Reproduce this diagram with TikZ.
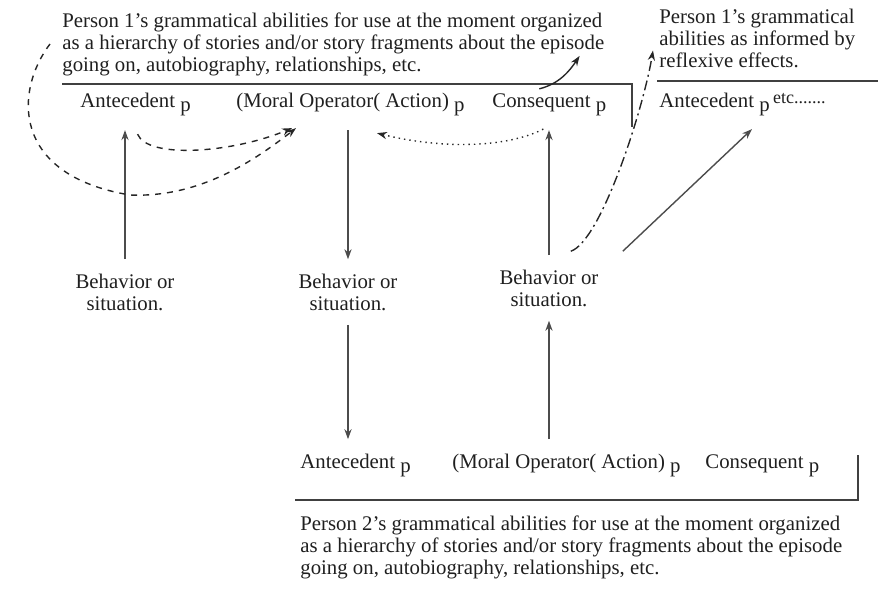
\documentclass[tikz,border=0pt]{standalone}
\usepackage{fontspec}
\setmainfont{Liberation Serif}
\usetikzlibrary{positioning, arrows.meta}
\newcommand{\psub}{\raisebox{-0.45ex}{p}}

\begin{document}
\begin{tikzpicture}[x=0.5pt, y=-0.5pt, >={Stealth[length=5pt, width=3.6pt]},
    every node/.style={font=\fontsize{10.4}{11}\selectfont, text=black!88, inner sep=0pt},
    lbl/.style={anchor=base west},
    blk/.style={anchor=north west, align=left},
    beh/.style={align=center},
    arr/.style={->, black!70, line width=0.7pt, shorten <=7pt, shorten >=7pt},
    crv/.style={->, black!85, line width=0.7pt},
    rule/.style={black!75, line width=0.7pt}]
    \useasboundingbox (0,0) rectangle (878,589);

    % person 1
    \node[blk] (p1text) at (62,12) {Person 1's grammatical abilities for use at the moment organized\\
        as a hierarchy of stories and/or story fragments about the episode\\
        going on, autobiography, relationships, etc.};
    \node[blk] (p1ref) at (659,9) {Person 1's grammatical\\abilities as informed by\\reflexive effects.};
    \draw[rule] (62,84) -- (632,84) -- (632,127);
    \draw[rule] (657,81) -- (878,81);

    \node[lbl] (ant1) at (80,107) {Antecedent \psub};
    \node[lbl] (mor1) at (236,107) {(Moral Operator( Action) \psub};
    \node[lbl] (con1) at (492,107) {Consequent \psub};
    \node[lbl] (ant3) at (659,107) {Antecedent \psub\,\raisebox{0.4ex}{\fontsize{9}{10}\selectfont etc.......}};

    % behaviors
    \node[beh] (beh1) at (125,292) {Behavior or\\situation.};
    \node[beh] (beh2) at (348,292) {Behavior or\\situation.};
    \node[beh] (beh3) at (549,288) {Behavior or\\situation.};

    % person 2
    \node[lbl] (ant2) at (300,468) {Antecedent \psub};
    \node[lbl] (mor2) at (452,468) {(Moral Operator( Action) \psub};
    \node[lbl] (con2) at (705,468) {Consequent \psub};
    \draw[rule] (295,500) -- (858,500) -- (858,455);
    \node[blk] (p2text) at (300,515) {Person 2's grammatical abilities for use at the moment organized\\
        as a hierarchy of stories and/or story fragments about the episode\\
        going on, autobiography, relationships, etc.};

    % straight arrows
    \draw[arr] (beh1.north) -- (beh1.north |- ant1.south);
    \draw[arr] (beh2.north |- mor1.south) -- (beh2.north);
    \draw[arr] (beh2.south) -- (beh2.south |- ant2.north);
    \draw[arr] (beh3.south |- mor2.north) -- (beh3.south);
    \draw[arr] (beh3.north) -- (beh3.north |- con1.south);
    \draw[arr, shorten <=0pt, shorten >=0pt] ([xshift=12pt, yshift=9pt]beh3.north east) -- ([xshift=46.5pt, yshift=-6.5pt]ant3.south west);

    % curved arrows
    \draw[crv, dashed] ([xshift=1pt, yshift=-9pt]ant1.south) .. controls +(10,25) and +(-60,25) .. ([xshift=28pt, yshift=-6pt]mor1.south west);
    \draw[crv, dashed] ([xshift=-6pt]p1text.west) .. controls (15,90) and (10,175) .. (130,195)
        .. controls (200,198) and (255,160) .. ([xshift=30pt, yshift=-6pt]mor1.south west);
    \draw[crv, dotted] ([xshift=-3pt, yshift=-6.5pt]con1.south) .. controls +(-40,20) and +(60,15) .. ([xshift=70.5pt, yshift=-8.5pt]mor1.south west);
    \draw[crv] ([xshift=-5pt, yshift=2pt]con1.north) .. controls +(20,-5) and +(-10,15) .. ([xshift=-12.5pt, yshift=10pt]p1text.south east);
    \draw[crv, dash pattern=on 5pt off 2pt on 1pt off 2pt] ([xshift=-14pt, yshift=9pt]beh3.north east) .. controls +(30,-10) and +(-10,60) .. ([xshift=-3pt, yshift=9pt]p1ref.south west);
\end{tikzpicture}
\end{document}
